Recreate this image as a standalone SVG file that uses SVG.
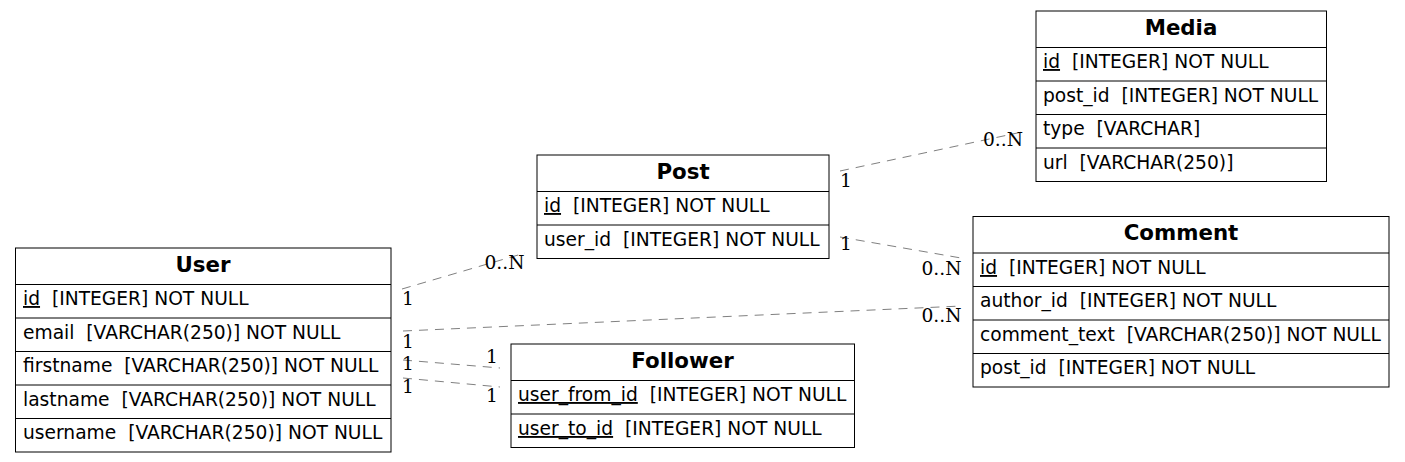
<svg xmlns="http://www.w3.org/2000/svg" width="1405" height="462" viewBox="0 0 1405 462">
<style>
.box{fill:#fff;stroke:#000;stroke-width:1}
.sep{stroke:#000;stroke-width:1}
.hd{font-family:"DejaVu Sans",sans-serif;font-weight:bold;font-size:21.33px;text-anchor:middle;fill:#000}
.rw{font-family:"DejaVu Sans",sans-serif;font-size:18.67px;fill:#000;white-space:pre}
.pk{text-decoration:underline}
.lbl{font-family:"DejaVu Serif",serif;font-size:18.67px;fill:#000}
.edge{stroke:#808080;stroke-width:1;stroke-dasharray:9,7;fill:none}
</style>
<rect width="1405" height="462" fill="#fff"/>
<g id="connectors">
<line class="edge" x1="402" y1="289" x2="525" y2="253"/>
<line class="edge" x1="403" y1="331" x2="962" y2="306"/>
<line class="edge" x1="403" y1="360" x2="500" y2="368"/>
<line class="edge" x1="403" y1="378" x2="500" y2="387"/>
<line class="edge" x1="840" y1="171" x2="1022" y2="132"/>
<line class="edge" x1="840" y1="237" x2="961" y2="258"/>
<text class="lbl" x="402" y="305">1</text>
<text class="lbl" x="484.5" y="269">0..N</text>
<text class="lbl" x="402" y="348">1</text>
<text class="lbl" x="921.5" y="322">0..N</text>
<text class="lbl" x="402" y="370">1</text>
<text class="lbl" x="486" y="363">1</text>
<text class="lbl" x="402" y="393">1</text>
<text class="lbl" x="486" y="402">1</text>
<text class="lbl" x="840" y="187">1</text>
<text class="lbl" x="983" y="146">0..N</text>
<text class="lbl" x="840" y="250">1</text>
<text class="lbl" x="921.5" y="275">0..N</text>
</g>
<g id="User">
<rect class="box" x="15.5" y="248" width="375.5" height="204"/>
<line class="sep" x1="15.5" y1="284.5" x2="391" y2="284.5"/>
<line class="sep" x1="15.5" y1="318" x2="391" y2="318"/>
<line class="sep" x1="15.5" y1="351.5" x2="391" y2="351.5"/>
<line class="sep" x1="15.5" y1="385" x2="391" y2="385"/>
<line class="sep" x1="15.5" y1="418.5" x2="391" y2="418.5"/>
<text class="hd" x="203" y="272">User</text>
<text class="rw" x="23" y="305" xml:space="preserve"><tspan class="pk">id</tspan>  [INTEGER] NOT NULL</text>
<text class="rw" x="23" y="339" xml:space="preserve">email  [VARCHAR(250)] NOT NULL</text>
<text class="rw" x="23" y="372" xml:space="preserve">firstname  [VARCHAR(250)] NOT NULL</text>
<text class="rw" x="23" y="406" xml:space="preserve">lastname  [VARCHAR(250)] NOT NULL</text>
<text class="rw" x="23" y="439" xml:space="preserve">username  [VARCHAR(250)] NOT NULL</text>
</g>
<g id="Post">
<rect class="box" x="537" y="155" width="292" height="103.5"/>
<line class="sep" x1="537" y1="191.5" x2="829" y2="191.5"/>
<line class="sep" x1="537" y1="225" x2="829" y2="225"/>
<text class="hd" x="683" y="179">Post</text>
<text class="rw" x="544" y="212" xml:space="preserve"><tspan class="pk">id</tspan>  [INTEGER] NOT NULL</text>
<text class="rw" x="544" y="246" xml:space="preserve">user_id  [INTEGER] NOT NULL</text>
</g>
<g id="Media">
<rect class="box" x="1036" y="11" width="290.5" height="170.5"/>
<line class="sep" x1="1036" y1="47.5" x2="1326.5" y2="47.5"/>
<line class="sep" x1="1036" y1="81" x2="1326.5" y2="81"/>
<line class="sep" x1="1036" y1="114.5" x2="1326.5" y2="114.5"/>
<line class="sep" x1="1036" y1="148" x2="1326.5" y2="148"/>
<text class="hd" x="1181" y="35">Media</text>
<text class="rw" x="1043" y="68" xml:space="preserve"><tspan class="pk">id</tspan>  [INTEGER] NOT NULL</text>
<text class="rw" x="1043" y="102" xml:space="preserve">post_id  [INTEGER] NOT NULL</text>
<text class="rw" x="1043" y="135" xml:space="preserve">type  [VARCHAR]</text>
<text class="rw" x="1043" y="169" xml:space="preserve">url  [VARCHAR(250)]</text>
</g>
<g id="Comment">
<rect class="box" x="973" y="216.5" width="416" height="170.5"/>
<line class="sep" x1="973" y1="253" x2="1389" y2="253"/>
<line class="sep" x1="973" y1="286.5" x2="1389" y2="286.5"/>
<line class="sep" x1="973" y1="320" x2="1389" y2="320"/>
<line class="sep" x1="973" y1="353.5" x2="1389" y2="353.5"/>
<text class="hd" x="1181" y="240">Comment</text>
<text class="rw" x="980" y="274" xml:space="preserve"><tspan class="pk">id</tspan>  [INTEGER] NOT NULL</text>
<text class="rw" x="980" y="307" xml:space="preserve">author_id  [INTEGER] NOT NULL</text>
<text class="rw" x="980" y="341" xml:space="preserve">comment_text  [VARCHAR(250)] NOT NULL</text>
<text class="rw" x="980" y="374" xml:space="preserve">post_id  [INTEGER] NOT NULL</text>
</g>
<g id="Follower">
<rect class="box" x="511" y="344" width="343.5" height="103.5"/>
<line class="sep" x1="511" y1="380.5" x2="854.5" y2="380.5"/>
<line class="sep" x1="511" y1="414" x2="854.5" y2="414"/>
<text class="hd" x="682.5" y="368">Follower</text>
<text class="rw" x="518" y="401" xml:space="preserve"><tspan class="pk">user_from_id</tspan>  [INTEGER] NOT NULL</text>
<text class="rw" x="518" y="435" xml:space="preserve"><tspan class="pk">user_to_id</tspan>  [INTEGER] NOT NULL</text>
</g>
</svg>
